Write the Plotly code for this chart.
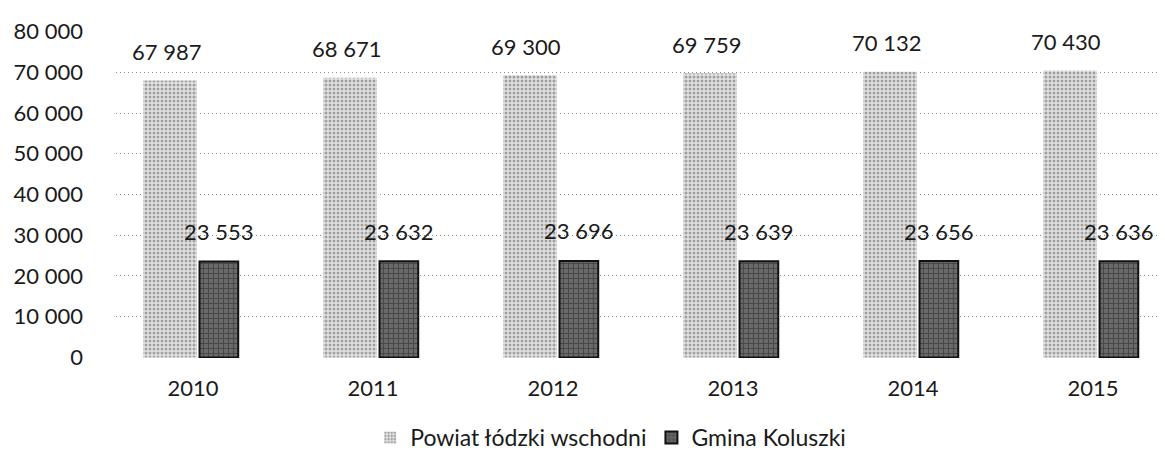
import plotly.graph_objects as go

# data
years = ["2010", "2011", "2012", "2013", "2014", "2015"]
powiat = [67987, 68671, 69300, 69759, 70132, 70430]
gmina = [23553, 23632, 23696, 23639, 23656, 23636]
powiat_name = "Powiat łódzki wschodni"
gmina_name = "Gmina Koluszki"

FONT = "Lato"
TXT = "#1a1a1a"

fig = go.Figure()

# light dotted bars
fig.add_trace(go.Bar(
    x=years, y=powiat, name=powiat_name,
    offset=-0.278, width=0.30,
    marker=dict(color="#e3e3e3", line=dict(width=0),
                pattern=dict(shape=".", fgcolor="#5e5e5e", size=4, solidity=0.45)),
))

# dark bars with black border
fig.add_trace(go.Bar(
    x=years, y=gmina, name=gmina_name,
    offset=0.036, width=0.215,
    marker=dict(color="#6a6a6a", line=dict(color="#111111", width=2),
                pattern=dict(shape="+", fgcolor="#262626", size=5, solidity=0.4)),
))

# value labels sit well above the bars (category index used for x)
for i, v in enumerate(powiat):
    fig.add_annotation(x=i, y=v, text=f"{v:,}".replace(",", " "),
                       showarrow=False, xshift=-27, yshift=29, yanchor="middle",
                       font=dict(family=FONT, size=22, color=TXT))
for i, v in enumerate(gmina):
    fig.add_annotation(x=i, y=v, text=f"{v:,}".replace(",", " "),
                       showarrow=False, xshift=25, yshift=30, yanchor="middle",
                       font=dict(family=FONT, size=22, color=TXT))

fig.update_layout(
    width=1165, height=451,
    margin=dict(l=108, r=0, t=23, b=92),
    paper_bgcolor="white", plot_bgcolor="white",
    separators=", ",
    font=dict(family=FONT, size=22, color=TXT),
    showlegend=True,
    legend=dict(orientation="h", x=0.468, xanchor="center", y=-0.245, yanchor="middle",
                font=dict(family=FONT, size=23, color=TXT),
                itemwidth=30, tracegroupgap=0),
)

fig.update_xaxes(
    type="category", range=[-0.428, 5.444],
    showgrid=False, showline=False, zeroline=False, ticks="",
    ticklabelstandoff=15,
    tickfont=dict(family=FONT, size=22, color=TXT),
)

fig.update_yaxes(
    range=[-150, 80150], tickvals=[0, 10000, 20000, 30000, 40000, 50000, 60000, 70000, 80000],
    tickformat=",d",
    showgrid=True, gridcolor="#8c8c8c", gridwidth=1, griddash="1px,3px",
    zeroline=False, showline=False, ticks="",
    ticklabelstandoff=32,
    tickfont=dict(family=FONT, size=22, color=TXT),
)

fig.write_html("out.html")
